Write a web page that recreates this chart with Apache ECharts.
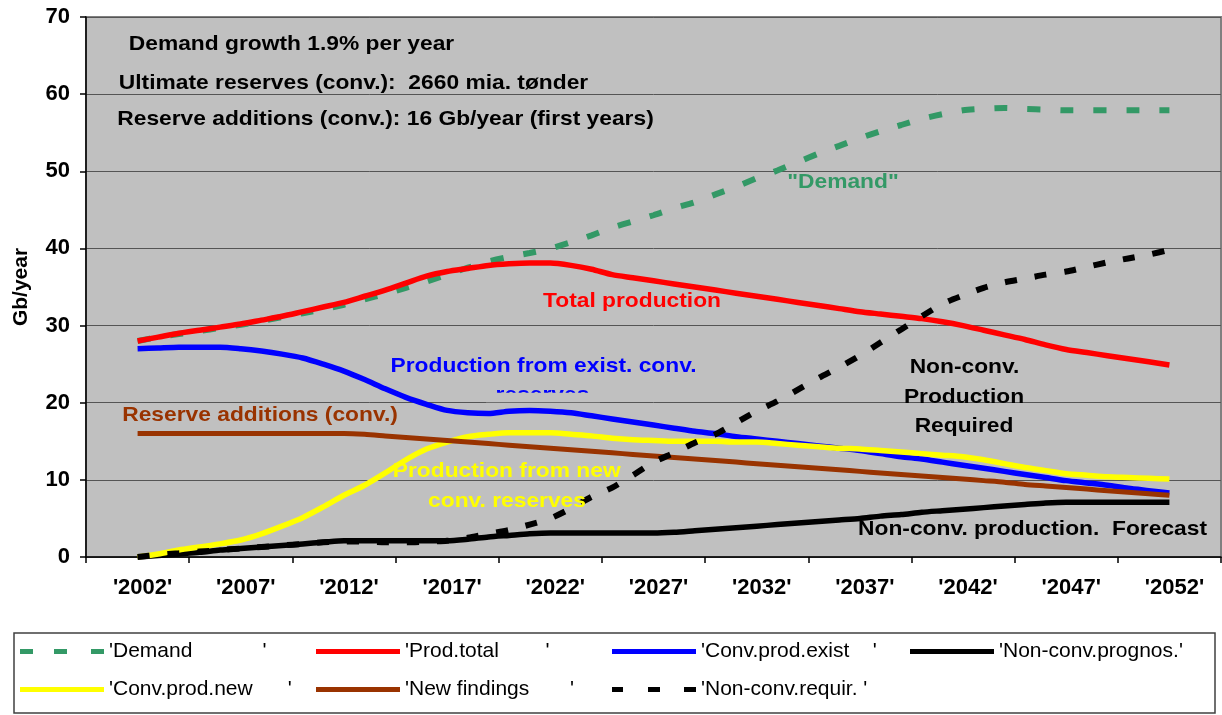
<!DOCTYPE html>
<html><head><meta charset="utf-8">
<script src="https://cdn.jsdelivr.net/npm/echarts/dist/echarts.min.js"></script>
<style>html,body{margin:0;padding:0;background:#fff}#c{width:1222px;height:715px}</style>
</head><body><div id="c"></div>
<script>
// Category axis: years 2000..2054 (data exists 2002..2052)
const years = ['2000','2001','2002','2003','2004','2005','2006','2007','2008','2009',
 '2010','2011','2012','2013','2014','2015','2016','2017','2018','2019',
 '2020','2021','2022','2023','2024','2025','2026','2027','2028','2029',
 '2030','2031','2032','2033','2034','2035','2036','2037','2038','2039',
 '2040','2041','2042','2043','2044','2045','2046','2047','2048','2049',
 '2050','2051','2052','2053','2054'];

// Series values, 2002..2052 (Gb/year)
const demand = [28.0,28.5,28.9,29.3,29.7,30.1,30.6,31.1,31.6,32.1,
 32.7,33.4,34.1,34.9,35.7,36.6,37.5,38.3,38.9,39.4,
 40.0,40.8,41.7,42.7,43.5,44.3,45.2,46.0,47.0,48.0,
 49.1,50.1,51.2,52.3,53.3,54.3,55.2,56.0,56.8,57.4,
 57.9,58.1,58.2,58.1,58.0,57.9,57.9,57.9,57.9,57.9,57.9];
const prodTotal = [28.0,28.5,29.0,29.4,29.8,30.2,30.7,31.2,31.8,32.4,
 33.0,33.8,34.6,35.5,36.4,37.0,37.4,37.8,38.0,38.1,
 38.1,37.8,37.3,36.6,36.2,35.8,35.4,35.0,34.6,34.2,
 33.8,33.4,33.0,32.6,32.2,31.8,31.5,31.2,30.9,30.5,
 30.0,29.4,28.8,28.2,27.5,26.9,26.5,26.1,25.7,25.3,24.9];
const convExist = [27.0,27.1,27.2,27.2,27.2,27.0,26.7,26.3,25.8,25.0,
 24.1,23.0,21.8,20.7,19.8,19.0,18.7,18.6,18.9,19.0,
 18.9,18.7,18.3,17.9,17.5,17.1,16.7,16.3,16.0,15.6,
 15.3,15.0,14.7,14.4,14.1,13.8,13.4,13.0,12.7,12.3,
 11.9,11.5,11.1,10.7,10.3,9.9,9.6,9.3,8.9,8.6,8.3];
const nonConvForecast = [0.0,0.2,0.4,0.6,0.9,1.1,1.3,1.5,1.7,1.9,
 2.1,2.1,2.1,2.1,2.1,2.1,2.3,2.6,2.8,3.0,
 3.1,3.1,3.1,3.1,3.1,3.1,3.2,3.4,3.6,3.8,
 4.0,4.2,4.4,4.6,4.8,5.0,5.3,5.5,5.8,6.0,
 6.2,6.4,6.6,6.8,7.0,7.1,7.1,7.1,7.1,7.1,7.1];
const convNew = [0.0,0.4,0.9,1.3,1.7,2.2,3.0,4.0,5.1,6.5,
 8.0,9.3,10.9,12.6,14.0,14.9,15.6,15.9,16.1,16.1,
 16.1,15.9,15.7,15.4,15.2,15.1,15.0,15.0,15.0,14.9,
 14.9,14.7,14.5,14.3,14.1,14.0,13.8,13.6,13.4,13.2,
 13.0,12.6,12.1,11.6,11.2,10.8,10.6,10.4,10.3,10.2,10.1];
const newFindings = [16.0,16.0,16.0,16.0,16.0,16.0,16.0,16.0,16.0,16.0,
 16.0,15.9,15.7,15.5,15.3,15.1,14.9,14.7,14.5,14.3,
 14.1,13.9,13.7,13.5,13.3,13.1,12.9,12.7,12.5,12.3,
 12.1,11.9,11.7,11.5,11.3,11.1,10.9,10.7,10.5,10.3,
 10.1,9.9,9.7,9.4,9.2,9.0,8.8,8.6,8.4,8.2,8.0];
const nonConvRequired = [0.0,0.3,0.5,0.7,0.9,1.1,1.3,1.5,1.7,1.9,
 2.0,2.0,1.9,1.9,2.0,2.1,2.5,3.0,3.5,4.2,
 5.0,6.3,7.8,9.0,10.6,12.3,13.5,14.8,15.9,17.4,
 18.9,20.2,21.7,23.2,24.6,26.1,27.8,29.5,31.2,32.8,
 33.9,34.9,35.6,36.1,36.6,37.0,37.6,38.2,38.7,39.2,39.8];

const seriesNames = [
 "'Demand            '",
 "'Prod.total        '",
 "'Conv.prod.exist    '",
 "'Non-conv.prognos.'",
 "'Conv.prod.new      '",
 "'New findings       '",
 "'Non-conv.requir. '"
];

const FONT = '"Liberation Sans", Arial, Helvetica, sans-serif';

function pad(arr) { return [null, null].concat(arr, [null, null]); }

function line(name, arr, color, width, dash) {
  return {
    type: 'line', name: name, data: pad(arr), symbol: 'none', showSymbol: false,
    smooth: 0.25, connectNulls: false, silent: true,
    lineStyle: { color: color, width: width, type: dash || 'solid', cap: 'butt' },
    itemStyle: { color: color },
    emphasis: { disabled: true }
  };
}

const notes = [
 ['Demand growth 1.9% per year', 291.5, 44, '#000000'],
 ['Ultimate reserves (conv.):  2660 mia. tønder', 353.5, 83, '#000000'],
 ['Reserve additions (conv.): 16 Gb/year (first years)', 385.5, 119, '#000000'],
 ['"Demand"', 843, 182, '#339966'],
 ['Total production', 632, 301, '#FF0000'],
 ['Production from exist. conv.', 543.5, 366, '#0000FF'],
 ['reserves', 542.5, 395.2, '#0000FF'],
 ['Reserve additions (conv.)', 260, 415, '#993300'],
 ['Production from new', 506.7, 471, '#FFFF00'],
 ['conv. reserves', 507, 501, '#FFFF00'],
 ['Non-conv.', 964.5, 367, '#000000'],
 ['Production', 964, 397, '#000000'],
 ['Required', 964, 426, '#000000'],
 ['Non-conv. production.  Forecast', 1032.5, 529, '#000000']
];

const graphics = [{
  type: 'rect', z: 0,
  shape: { x: 14, y: 633, width: 1201, height: 80 },
  style: { fill: '#ffffff', stroke: '#404040', lineWidth: 1.5 }
}];
notes.forEach(function (n) {
  graphics.push({
    type: 'text', x: n[1], y: n[2], scaleX: 1.085, z: 100, silent: true,
    style: { text: n[0], x: 0, y: 0, fill: n[3], font: 'bold 21px ' + FONT,
             textAlign: 'center', textVerticalAlign: 'middle' }
  });
});
// mask clipping the lower part of the "reserves" line (as in the original)
graphics.push({
  type: 'rect', z: 101, silent: true,
  shape: { x: 486, y: 392.7, width: 114, height: 9.5 },
  style: { fill: '#C0C0C0' }
});

// legend icon shapes (84 x 5 px)
const ICON_SOLID = 'path://M0,0H84V5H0Z';
const ICON_DEMAND = 'path://M0,0H13V5H0Z M34,0H47V5H34Z M71,0H84V5H71Z';
const ICON_REQ = 'path://M0,0H11V5H0Z M36,0H48V5H36Z M72,0H84V5H72Z';
const legendIcons = [ICON_DEMAND, ICON_SOLID, ICON_SOLID, ICON_SOLID, ICON_SOLID, ICON_SOLID, ICON_REQ];
const legendPos = [[20, 641], [316, 641], [612, 641], [910, 641], [20, 679], [316, 679], [612, 679]];
const legends = seriesNames.map(function (nm, i) {
  return {
    data: [{ name: nm, icon: legendIcons[i] }], left: legendPos[i][0], top: legendPos[i][1],
    orient: 'horizontal', itemWidth: 84, itemHeight: 5, itemGap: 0, padding: 0,
    selectedMode: false, symbolKeepAspect: false,
    textStyle: { fontSize: 21, fontFamily: FONT, color: '#000' }
  };
});

const chart = echarts.init(document.getElementById('c'), null, { renderer: 'canvas' });
chart.setOption({
  animation: false,
  backgroundColor: '#ffffff',
  grid: { left: 86, right: 1, top: 17, bottom: 158, show: true, backgroundColor: '#C0C0C0',
          borderColor: '#808080', borderWidth: 2, containLabel: false, outerBoundsMode: 'none' },
  legend: legends,
  xAxis: {
    type: 'category', data: years, boundaryGap: true,
    axisLine: { show: true, lineStyle: { color: '#000', width: 1.5 } },
    axisTick: { show: true, length: 6, interval: function (i) { return i % 5 === 0; },
                lineStyle: { color: '#000', width: 1.5 } },
    axisLabel: { show: true, interval: function (i) { return i % 5 === 2; },
                 formatter: function (v) { return "'" + v + "'"; },
                 fontSize: 22, fontWeight: 'bold', fontFamily: FONT, color: '#000',
                 margin: 20, padding: [0, 0, 0, 10] },
    splitLine: { show: false }
  },
  yAxis: {
    type: 'value', min: 0, max: 70, interval: 10,
    name: 'Gb/year', nameLocation: 'middle', nameRotate: 90, nameGap: 54,
    nameTextStyle: { fontSize: 21, fontWeight: 'bold', fontFamily: FONT, color: '#000' },
    axisLine: { show: true, lineStyle: { color: '#000', width: 1.5 } },
    axisTick: { show: true, length: 6, lineStyle: { color: '#000', width: 1.5 } },
    axisLabel: { fontSize: 22, fontWeight: 'bold', fontFamily: FONT, color: '#000', margin: 16 },
    splitLine: { show: true, lineStyle: { color: '#555555', width: 1 } }
  },
  graphic: { elements: graphics },
  series: [
    line(seriesNames[0], demand, '#339966', 6, [13, 20]),
    line(seriesNames[1], prodTotal, '#FF0000', 5.5),
    line(seriesNames[2], convExist, '#0000FF', 5.5),
    line(seriesNames[3], nonConvForecast, '#000000', 5.5),
    line(seriesNames[4], convNew, '#FFFF00', 5.5),
    line(seriesNames[5], newFindings, '#993300', 5),
    line(seriesNames[6], nonConvRequired, '#000000', 6, [12, 18])
  ]
});
</script></body></html>
